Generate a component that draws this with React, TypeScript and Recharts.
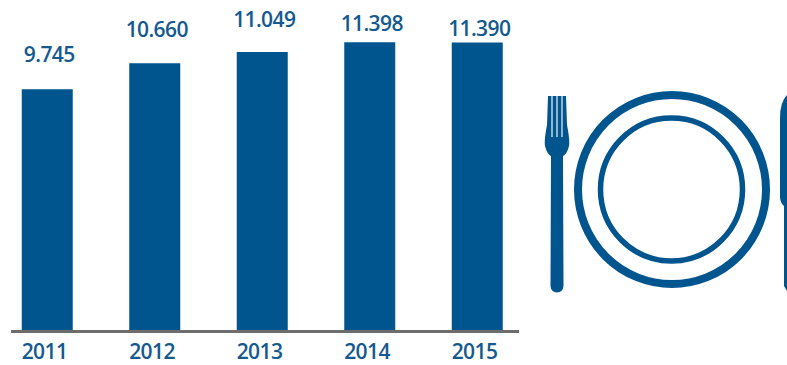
import { Bar, BarChart, LabelList, XAxis, YAxis } from "recharts";

const years = ["2011", "2012", "2013", "2014", "2015"];
const meals = [9745, 10660, 11049, 11398, 11390];
const valueLabels = ["9.745", "10.660", "11.049", "11.398", "11.390"];

// how far each value label sits above its bar
const labelLift = [27, 26, 25, 11, 6];

const BLUE = "#00558f";
const TEXT_BLUE = "#14598f";
const FONT = "'Open Sans', sans-serif";

const data = years.map((year, i) => ({ year, meals: meals[i], label: valueLabels[i] }));

const renderValue = (props: any) => {
    const { x, y, width, index } = props;
    return (
        <text
            x={x + width / 2 + 2}
            y={y - labelLift[index]}
            textAnchor="middle"
            fill={TEXT_BLUE}
            fontFamily={FONT}
            fontSize={21}
            fontWeight={600}
            letterSpacing={-0.6}
        >
            {valueLabels[index]}
        </text>
    );
};

function CutleryIcon() {
    return (
        <svg width={787} height={365} style={{ position: "absolute", left: 0, top: 0 }}>
            {/* plate */}
            <ellipse cx={672} cy={189.5} rx={94} ry={94.5} fill="none" stroke={BLUE} strokeWidth={8} />
            <ellipse cx={671.5} cy={189.5} rx={71} ry={71.5} fill="none" stroke={BLUE} strokeWidth={5.5} />
            {/* fork */}
            <path
                d="M548 96 L566 96 L567 125 Q570 140 569 146 Q567 154 563 156 L563.5 286 Q563 292 557 292.5 Q551 292 550.5 286 L551 156 Q547 154 545 146 Q544 140 547 125 Z"
                fill={BLUE}
            />
            <path d="M552 96 V137 M557 96 V137 M562 96 V137" stroke="#dfe9f1" strokeWidth={1.3} fill="none" />
            {/* knife */}
            <path
                d="M787 95 Q780 102 780 118 L780 198 Q781 204 784 206 L784 286 L787 291 Z"
                fill={BLUE}
            />
        </svg>
    );
}

export default function App() {
    return (
        <div style={{ position: "absolute", left: 0, top: 0, width: 787, height: 365, background: "#fff" }}>
            <BarChart
                width={787}
                height={365}
                data={data}
                margin={{ top: 25, right: 268, bottom: 0, left: 11 }}
            >
                <XAxis
                    dataKey="year"
                    scale="point"
                    padding={{ left: 36.5, right: 41.5 }}
                    height={35}
                    tickLine={false}
                    tickMargin={8}
                    axisLine={{ stroke: "#6d6d6d", strokeWidth: 3, transform: "translate(0 1.5)" }}
                    tick={{ fill: TEXT_BLUE, fontFamily: FONT, fontSize: 21, fontWeight: 600, letterSpacing: -0.6, dx: -3 }}
                />
                <YAxis hide domain={[1300, 12000]} />
                <Bar dataKey="meals" fill={BLUE} barSize={51} isAnimationActive={false}>
                    <LabelList dataKey="label" content={renderValue} />
                </Bar>
            </BarChart>
            <CutleryIcon />
        </div>
    );
}
